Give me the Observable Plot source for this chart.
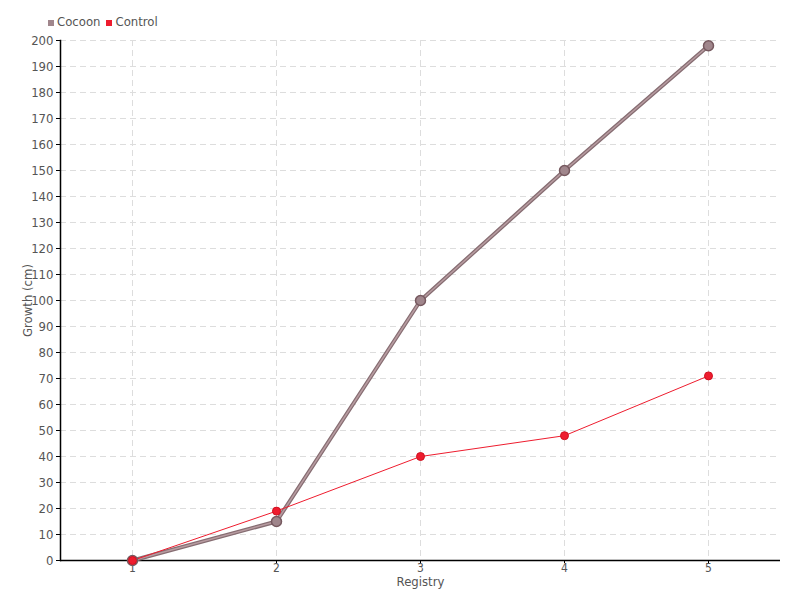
<!DOCTYPE html>
<html><head><meta charset="utf-8">
<script src="https://cdn.jsdelivr.net/npm/d3@7"></script>
<script src="https://cdn.jsdelivr.net/npm/@observablehq/plot@0.6"></script>
<style>
body{margin:0;background:#fff;font-family:"DejaVu Sans Condensed","DejaVu Sans",sans-serif;}
#wrap{position:relative;width:800px;height:600px;}
#chart{position:absolute;left:0;top:0;}
#legend{position:absolute;left:48px;top:14px;font-size:13px;color:#555;display:flex;gap:6px;align-items:center;z-index:2;}
#legend span.sw{display:inline-block;width:6px;height:6px;margin-right:3px;vertical-align:middle;}
</style></head>
<body><div id="wrap"><div id="chart"></div><div id="legend"></div></div>
<script>
const registry = [1, 2, 3, 4, 5];
const cocoon = [0, 15, 100, 150, 198];
const control = [0, 19, 40, 48, 71];
const seriesNames = ["Cocoon", "Control"];
const seriesColors = ["#a0868c", "#ee1c2e"];
const yTicks = d3.range(0, 201, 10);

const rowsCocoon = registry.map((r, i) => ({r, v: cocoon[i]}));
const rowsControl = registry.map((r, i) => ({r, v: control[i]}));

const leg = document.getElementById("legend");
seriesNames.forEach((n, i) => {
  const s = document.createElement("span");
  s.innerHTML = `<span class="sw" style="background:${seriesColors[i]}"></span>${n}`;
  leg.appendChild(s);
});

const font = "DejaVu Sans Condensed, DejaVu Sans, sans-serif";
const chart = Plot.plot({
  width: 800, height: 600,
  marginLeft: 60, marginRight: 20, marginTop: 40, marginBottom: 40,
  style: {fontFamily: font, fontSize: "13px", color: "#555", background: "#fff"},
  x: {type: "point", domain: registry, padding: 0.5},
  y: {domain: [0, 200]},
  marks: [
    Plot.gridY(yTicks, {stroke: "#ddd", strokeOpacity: 1, strokeDasharray: "6,4"}),
    Plot.gridX(registry, {stroke: "#ddd", strokeOpacity: 1, strokeDasharray: "6,4"}),
    Plot.axisY(yTicks, {tickSize: 4, tickPadding: 3, label: null, fill: "#555", stroke: "#000"}),
    Plot.axisX(registry, {tickSize: 3, tickPadding: 0, label: null, fill: "#555", stroke: "#000", fontSize: 12}),
    Plot.frame({anchor: "left", stroke: "#000", strokeWidth: 1.5}),
    Plot.ruleY([0], {stroke: "#000", strokeWidth: 1.5}),
    Plot.text(["Growth (cm)"], {frameAnchor: "left", rotate: -90, textAnchor: "middle", dx: -33, fill: "#555", fontSize: 13}),
    Plot.text(["Registry"], {frameAnchor: "bottom", dy: 25, fill: "#555", fontSize: 13}),
    Plot.line(rowsCocoon, {x: "r", y: "v", stroke: "#866d72", strokeWidth: 4}),
    Plot.line(rowsCocoon, {x: "r", y: "v", stroke: "#b89ca1", strokeWidth: 1.5}),
    Plot.line(rowsControl, {x: "r", y: "v", stroke: seriesColors[1], strokeWidth: 1}),
    Plot.dot(rowsCocoon, {x: "r", y: "v", r: 5, fill: "#a0868c", stroke: "#76595f", strokeWidth: 1.5}),
    Plot.dot(rowsControl, {x: "r", y: "v", r: 4, fill: seriesColors[1], stroke: "#d01020", strokeWidth: 1})
  ]
});
document.getElementById("chart").appendChild(chart);
</script></body></html>
